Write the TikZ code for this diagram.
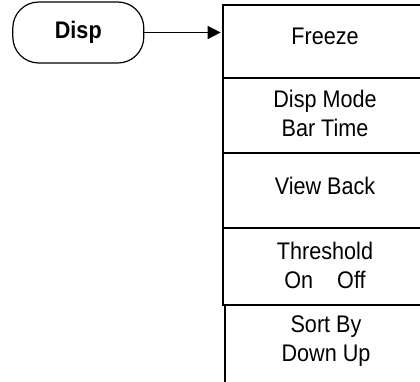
\documentclass[tikz,border=0pt]{standalone}
\usepackage{fontspec}
\setmainfont[FakeStretch=0.9]{Liberation Sans}
\usetikzlibrary{arrows.meta,positioning}

\tikzset{
  hardkey/.style={draw,line width=1.2pt,rounded corners=26pt,
    minimum width=131pt,minimum height=61pt,inner sep=0pt,
    font=\fontsize{24}{28}\selectfont\bfseries},
  softkey/.style={draw,line width=2.7pt,minimum width=202pt,inner sep=0pt},
  keytext/.style={align=center,inner sep=0pt,font=\fontsize{24}{29}\selectfont},
}

\begin{document}
\begin{tikzpicture}[x=1pt,y=-1pt]
 \useasboundingbox (0,0) rectangle (420,381);
 \clip (0,0) rectangle (420,381);
 % front panel key
 \node[hardkey] (disp) at (78.3,32.5) {Disp};
 % softkey menu
 \node[softkey,minimum height=73pt] (freeze) at (324,41.5) {};
 \node[softkey,minimum height=75pt] (mode) at (324,115.5) {};
 \node[softkey,minimum height=75pt] (back) at (324,190.5) {};
 \node[softkey,minimum height=77pt] (thresh) at (324,266.5) {};
 \node[softkey,minimum height=80pt] (sort) at (326,345) {};
 \node[keytext] (freezetxt) at (325,36.5) {Freeze};
 \node[keytext] (modetxt) at (325,113.5) {Disp Mode\\Bar Time};
 \node[keytext] (backtxt) at (325,186) {View Back};
 \node[keytext] (threshtxt) at (325,265.5) {Threshold\\On\hspace{24pt}Off};
 \node[keytext] (sorttxt) at (326,341) {Sort By\\Down Up};
 % key -> menu
 \draw[line width=1.5pt,-{Triangle[length=13pt,width=13pt]},shorten >=1pt]
   (disp.east) -- (disp.east -| freeze.west);
\end{tikzpicture}
\end{document}
